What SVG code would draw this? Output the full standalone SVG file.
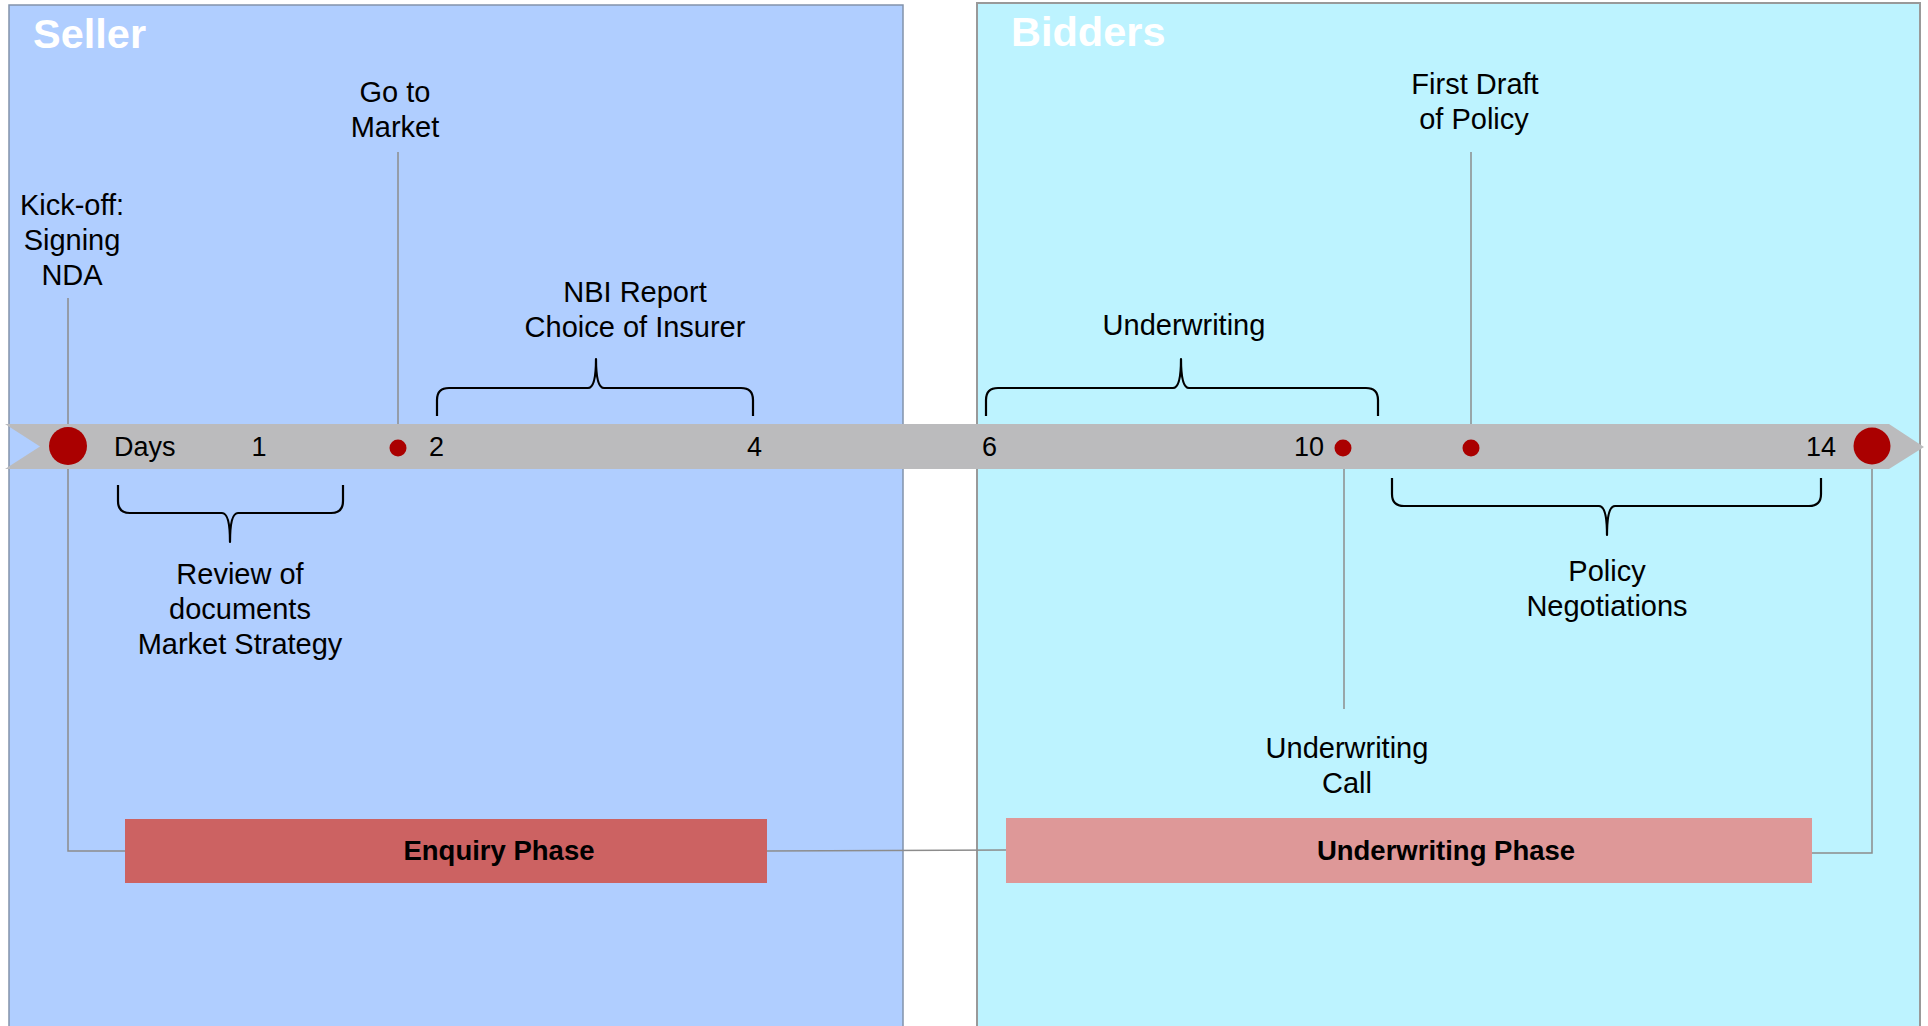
<svg xmlns="http://www.w3.org/2000/svg" width="1928" height="1026" viewBox="0 0 1928 1026">
<style>
  .lbl { font-family: "Liberation Sans", Arial, sans-serif; font-size: 29px; fill: #000; text-anchor: middle; }
  .num { font-family: "Liberation Sans", Arial, sans-serif; font-size: 27px; fill: #000; }
  .title { font-family: "Liberation Sans", Arial, sans-serif; font-size: 41.5px; font-weight: bold; fill: #fff; }
  .phase { font-family: "Liberation Sans", Arial, sans-serif; font-size: 27.5px; font-weight: bold; fill: #000; text-anchor: middle; }
  .conn { fill: none; stroke: #8c8c8c; stroke-width: 1.5; }
  .brace { fill: none; stroke: #000; stroke-width: 2.2; stroke-linejoin: round; }
  .dot { fill: #aa0000; }
</style>
<rect width="1928" height="1026" fill="#ffffff"/>
<g id="seller-panel">
  <rect x="9" y="5" width="894" height="1030" fill="#b0ceff" stroke="#8393aa" stroke-width="1.5"/>
  <text class="title" x="33" y="48">Seller</text>
</g>
<g id="bidders-panel">
  <rect x="977" y="3" width="943" height="1030" fill="#bdf3ff" stroke="#999999" stroke-width="2"/>
  <text class="title" x="1011" y="46">Bidders</text>
</g>
<g id="connectors">
  <path class="conn" d="M68 298 V851 H125"/>
  <path class="conn" d="M767 851 L1006 850"/>
  <path class="conn" d="M1872 464 V853 H1812"/>
  <path class="conn" d="M398 152 V440"/>
  <path class="conn" d="M1471 152 V440"/>
  <path class="conn" d="M1344 456 V709"/>
</g>
<g id="timeline">
  <polygon points="5,424 1889,424 1924,447 1889,469 5,469 40,446.5" fill="#bbbbbd"/>
  <text class="num" x="114" y="456">Days</text>
  <text class="num" x="259" y="456" text-anchor="middle">1</text>
  <text class="num" x="429" y="456">2</text>
  <text class="num" x="747" y="456">4</text>
  <text class="num" x="982" y="456">6</text>
  <text class="num" x="1324" y="456" text-anchor="end">10</text>
  <text class="num" x="1806" y="456">14</text>
</g>
<g id="kickoff">
  <circle class="dot" cx="68" cy="446" r="19"/>
  <text class="lbl" x="72" y="215">Kick-off:</text>
  <text class="lbl" x="72" y="250">Signing</text>
  <text class="lbl" x="72" y="285">NDA</text>
</g>
<g id="go-to-market">
  <circle class="dot" cx="398" cy="448" r="8.5"/>
  <text class="lbl" x="395" y="102">Go to</text>
  <text class="lbl" x="395" y="137">Market</text>
</g>
<g id="review">
  <path class="brace" d="M118 485 V501 Q118 513 130 513 H222 Q230 513 230 542 Q230 513 238 513 H331 Q343 513 343 501 V485"/>
  <text class="lbl" x="240" y="584">Review of</text>
  <text class="lbl" x="240" y="619">documents</text>
  <text class="lbl" x="240" y="654">Market Strategy</text>
</g>
<g id="nbi">
  <path class="brace" d="M437 416 V400 Q437 388 449 388 H588 Q596 388 596 359 Q596 388 604 388 H741 Q753 388 753 400 V416"/>
  <text class="lbl" x="635" y="302">NBI Report</text>
  <text class="lbl" x="635" y="337">Choice of Insurer</text>
</g>
<g id="underwriting">
  <path class="brace" d="M986 416 V400 Q986 388 998 388 H1173 Q1181 388 1181 359 Q1181 388 1189 388 H1366 Q1378 388 1378 400 V416"/>
  <text class="lbl" x="1184" y="335">Underwriting</text>
</g>
<g id="underwriting-call">
  <circle class="dot" cx="1343" cy="448" r="8.5"/>
  <text class="lbl" x="1347" y="758">Underwriting</text>
  <text class="lbl" x="1347" y="793">Call</text>
</g>
<g id="first-draft">
  <circle class="dot" cx="1471" cy="448" r="8.5"/>
  <text class="lbl" x="1475" y="94">First Draft</text>
  <text class="lbl" x="1474" y="129">of Policy</text>
</g>
<g id="policy-negotiations">
  <path class="brace" d="M1392 478 V494 Q1392 506 1404 506 H1599 Q1607 506 1607 535 Q1607 506 1615 506 H1809 Q1821 506 1821 494 V478"/>
  <text class="lbl" x="1607" y="581">Policy</text>
  <text class="lbl" x="1607" y="616">Negotiations</text>
</g>
<g id="end">
  <circle class="dot" cx="1872" cy="446" r="18.5"/>
</g>
<g id="enquiry-phase">
  <rect x="125" y="819" width="642" height="64" fill="#cc6262"/>
  <text class="phase" x="499" y="860">Enquiry Phase</text>
</g>
<g id="underwriting-phase">
  <rect x="1006" y="818" width="806" height="65" fill="#de9898"/>
  <text class="phase" x="1446" y="860">Underwriting Phase</text>
</g>
</svg>
